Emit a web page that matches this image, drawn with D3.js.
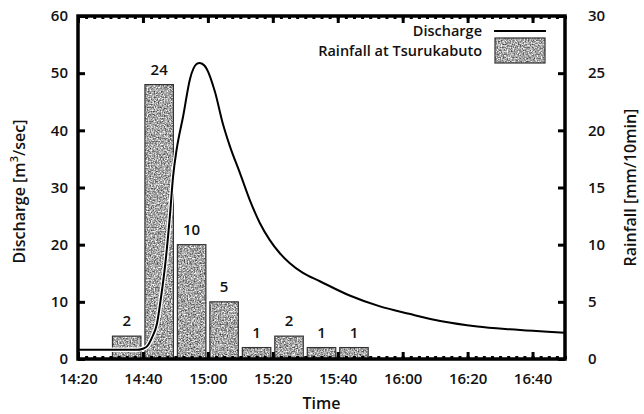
<!DOCTYPE html>
<html><head><meta charset="utf-8">
<script src="https://cdn.jsdelivr.net/npm/d3@7/dist/d3.min.js"></script>
<style>body{margin:0;background:#fff}svg{display:block}text{font-family:"Open Sans",sans-serif;fill:#111}</style>
</head><body><svg id="c" width="644" height="414"></svg>
<script>
// ---- data ----
const rainStart = ["14:30","14:40","14:50","15:00","15:10","15:20","15:30","15:40"];
const rainEnd   = ["14:40","14:50","15:00","15:10","15:20","15:30","15:40","15:50"];
const rainfall  = [2, 24, 10, 5, 1, 2, 1, 1];
const dischargeTime = ["14:20:00","14:38:00","14:40:00","14:41:15","14:42:45","14:44:20","14:45:30","14:46:48","14:48:18","14:49:18","14:50:24","14:52:24","14:54:30","14:56:30","14:57:30","14:59:00","14:59:42","15:02:12","15:04:36","15:06:48","15:09:50","15:12:55","15:16:00","15:19:05","15:22:10","15:25:10","15:29:10","15:34:30","15:43:40","15:53:00","16:02:00","16:12:00","16:23:00","16:33:00","16:50:00"];
const discharge = [1.6,1.6,1.8,2.2,3.7,6.2,10.5,16.2,25,32,36.7,42.5,49,51.6,51.8,51.3,50.7,46.7,41.2,37.2,32.6,27.8,23.8,20.8,18.5,16.8,15.1,13.6,11.1,9.2,7.9,6.6,5.7,5.2,4.6];
const timeTicks = ["14:20","14:40","15:00","15:20","15:40","16:00","16:20","16:40"];
const leftTicks = [0,10,20,30,40,50,60];
const rightTicks = [0,5,10,15,20,25,30];
const xDomain = ["14:20","16:50"];

const pT = d3.timeParse("%H:%M"), pS = d3.timeParse("%H:%M:%S");
const svg = d3.select("#c");
const L=78, R=565, T=16, B=359;
const x = d3.scaleTime().domain(xDomain.map(pT)).range([L,R]);
const yL = d3.scaleLinear().domain([0,60]).range([B,T]);
const yR = d3.scaleLinear().domain([0,30]).range([B,T]);

// grainy texture filter for bars
const defs = svg.append("defs");
const f = defs.append("filter").attr("id","tex").attr("x",0).attr("y",0).attr("width",1).attr("height",1)
  .attr("color-interpolation-filters","sRGB");
f.append("feTurbulence").attr("type","fractalNoise").attr("baseFrequency",0.7).attr("numOctaves",2).attr("seed",5).attr("result","n");
f.append("feColorMatrix").attr("in","n").attr("type","matrix")
 .attr("values","1.3 0 0 0 0.0  1.3 0 0 0 0.0  1.3 0 0 0 0.0  0 0 0 0 1").attr("result","m");
f.append("feComposite").attr("in","m").attr("in2","SourceGraphic").attr("operator","in");

const fs=15, ts=16;
// bars
const inset = 2;
const bx=(d,i)=>x(pT(rainStart[i]))+inset, bw=(d,i)=>x(pT(rainEnd[i]))-x(pT(rainStart[i]))-2*inset;
const gBars = svg.append("g");
gBars.selectAll("rect.f").data(rainfall).join("rect").attr("class","f")
  .attr("x",bx).attr("width",bw).attr("y",d=>yR(d)).attr("height",d=>B-yR(d))
  .attr("fill","#a8a8a8").attr("filter","url(#tex)");
gBars.selectAll("rect.o").data(rainfall).join("rect").attr("class","o")
  .attr("x",bx).attr("width",bw).attr("y",d=>yR(d)).attr("height",d=>B-yR(d))
  .attr("fill","none").attr("stroke","#333").attr("stroke-width",1.2);
svg.append("g").selectAll("text").data(rainfall).join("text")
  .attr("x",(d,i)=>(x(pT(rainStart[i]))+x(pT(rainEnd[i])))/2)
  .attr("y",d=>yR(d)-10).attr("text-anchor","middle")
  .attr("font-size",15).attr("font-weight",600).text(d=>d);

// discharge line
const line = d3.line().x((d,i)=>x(pS(dischargeTime[i]))).y(d=>yL(d)).curve(d3.curveMonotoneX);
svg.append("path").datum(discharge).attr("d",line).attr("fill","none").attr("stroke","#fff").attr("stroke-width",4.5);
svg.append("path").datum(discharge).attr("d",line).attr("fill","none").attr("stroke","#000").attr("stroke-width",2);

// axes (ticks inward)
const minorTimes = d3.range(0,151,2.5).map(m=>d3.timeSecond.offset(x.domain()[0], m*60));
svg.append("g").attr("transform",`translate(0,${B})`)
  .call(d3.axisBottom(x).tickValues(timeTicks.map(pT)).tickFormat(d3.timeFormat("%H:%M")).tickSize(-7).tickPadding(14));
svg.append("g").attr("transform",`translate(0,${B})`).call(d3.axisBottom(x).tickValues(minorTimes).tickFormat("").tickSize(-3));
svg.append("g").attr("transform",`translate(0,${T})`).call(d3.axisTop(x).tickValues(timeTicks.map(pT)).tickFormat("").tickSize(-7));
svg.append("g").attr("transform",`translate(0,${T})`).call(d3.axisTop(x).tickValues(minorTimes).tickFormat("").tickSize(-3));
svg.append("g").attr("transform",`translate(${L},0)`).call(d3.axisLeft(yL).tickValues(leftTicks).tickSize(-7).tickPadding(10));
svg.append("g").attr("transform",`translate(${R},0)`).call(d3.axisRight(yR).tickValues(rightTicks).tickSize(-7).tickPadding(23));
svg.selectAll(".domain").remove();
svg.selectAll(".tick line").attr("stroke","#000").attr("stroke-width",3);
svg.selectAll(".tick text").attr("font-size",fs).attr("font-weight",600).attr("font-family","'Open Sans',sans-serif").attr("fill","#111");

// frame
svg.append("rect").attr("x",L).attr("y",T).attr("width",R-L).attr("height",B-T)
  .attr("fill","none").attr("stroke","#000").attr("stroke-width",3.5);

// titles
svg.append("text").attr("x",(L+R)/2).attr("y",409).attr("text-anchor","middle").attr("font-size",ts).attr("font-weight",600).text("Time");
const lt = svg.append("text").attr("transform",`translate(25,${(T+B)/2+4}) rotate(-90)`).attr("text-anchor","middle").attr("font-size",ts).attr("font-weight",600);
lt.append("tspan").text("Discharge [m");
lt.append("tspan").attr("dy",-7).attr("font-size",11).text("3");
lt.append("tspan").attr("dy",7).text("/sec]");
svg.append("text").attr("transform",`translate(636,${(T+B)/2}) rotate(-90)`).attr("text-anchor","middle").attr("font-size",ts).attr("font-weight",600).text("Rainfall [mm/10min]");

// legend
const lfs = 14.5;
svg.append("text").attr("x",482).attr("y",35.5).attr("text-anchor","end").attr("font-size",lfs).attr("font-weight",600).text("Discharge");
svg.append("line").attr("x1",494).attr("x2",546).attr("y1",31).attr("y2",31).attr("stroke","#000").attr("stroke-width",2);
svg.append("text").attr("x",482).attr("y",55.5).attr("text-anchor","end").attr("font-size",lfs).attr("font-weight",600).text("Rainfall at Tsurukabuto");
svg.append("rect").attr("x",495).attr("y",38).attr("width",50).attr("height",25).attr("fill","#a8a8a8").attr("filter","url(#tex)");
svg.append("rect").attr("x",495).attr("y",38).attr("width",50).attr("height",25).attr("fill","none").attr("stroke","#333").attr("stroke-width",1.2);
</script></body></html>
